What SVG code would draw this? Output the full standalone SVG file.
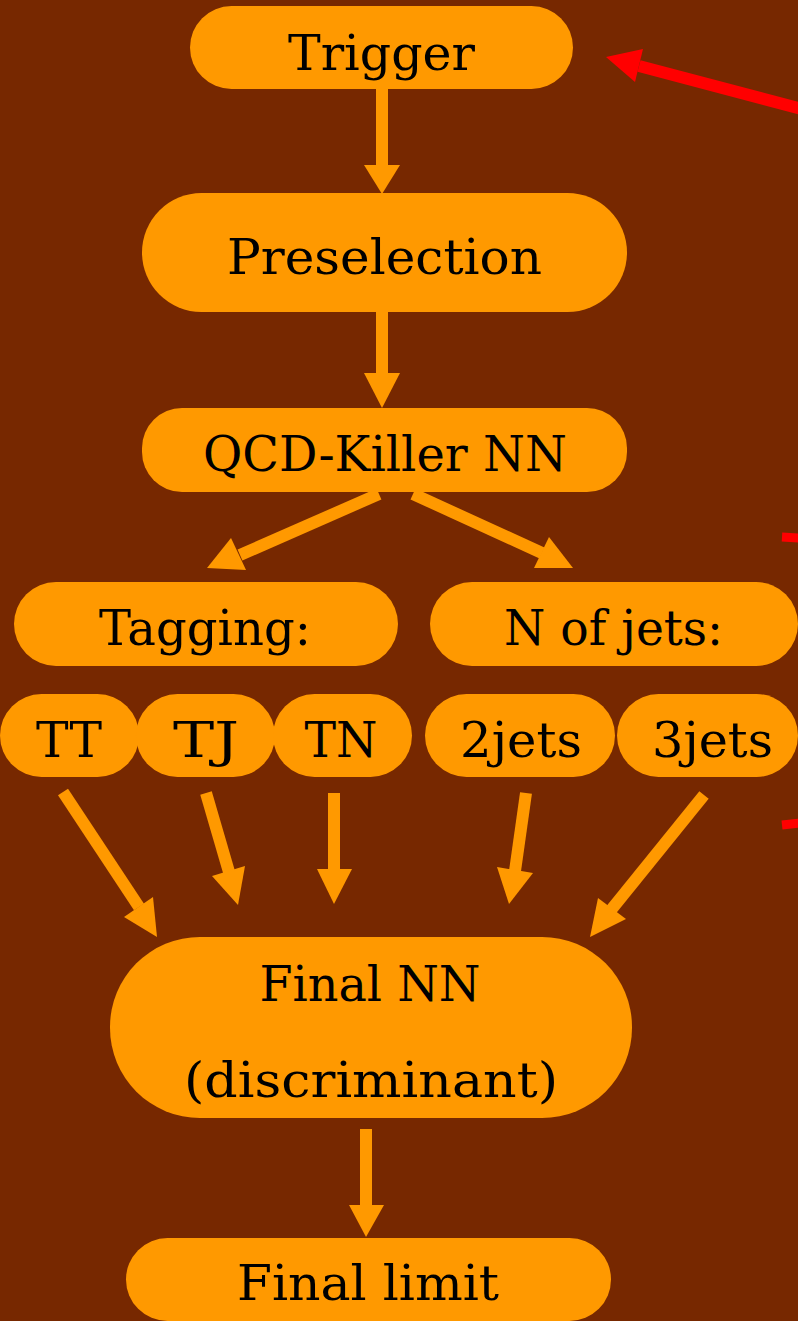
<svg xmlns="http://www.w3.org/2000/svg" width="798" height="1321" viewBox="0 0 798 1321">
<style>
.node{fill:#FF9900;}
.lbl{font-family:"DejaVu Serif","Liberation Serif",serif;font-size:48px;fill:#000;text-anchor:middle;}
.shaft{stroke:#FF9900;stroke-width:12;fill:none;}
.head{fill:#FF9900;}
.rshaft{stroke:#FF0000;stroke-width:12;fill:none;}
.rhead{fill:#FF0000;}
</style>
<rect x="0" y="0" width="798" height="1321" fill="#772800"/>
<g id="connectors">
<line class="shaft" x1="382" y1="89" x2="382" y2="166"/>
<polygon class="head" points="364,165 400,165 382,194"/>
<line class="shaft" x1="382" y1="312" x2="382" y2="374"/>
<polygon class="head" points="364,373 400,373 382,408"/>
<line class="shaft" x1="379" y1="494" x2="240" y2="555"/>
<polygon class="head" points="207,568 231,538 246,570"/>
<line class="shaft" x1="413" y1="494" x2="542" y2="553"/>
<polygon class="head" points="573,568 549,537 534,568"/>
<line class="shaft" x1="63" y1="792" x2="139" y2="907"/>
<polygon class="head" points="157,937 124,917 153,897"/>
<line class="shaft" x1="206" y1="793" x2="229" y2="872"/>
<polygon class="head" points="238,905 212,876 245,866"/>
<line class="shaft" x1="334" y1="793" x2="334" y2="870"/>
<polygon class="head" points="334,904 317,869 352,869"/>
<line class="shaft" x1="526" y1="793" x2="515" y2="871"/>
<polygon class="head" points="509,904 497,867 533,873"/>
<line class="shaft" x1="704" y1="795" x2="611" y2="910"/>
<polygon class="head" points="590,937 598,898 626,919"/>
<line class="shaft" x1="366" y1="1129" x2="366" y2="1206"/>
<polygon class="head" points="349,1205 384,1205 366,1237"/>
<line class="rshaft" x1="639" y1="66" x2="802" y2="109"/>
<polygon class="rhead" points="606,57 643,49 635,82"/>
<line class="rshaft" x1="782" y1="537" x2="800" y2="538" style="stroke-width:9"/>
<line class="rshaft" x1="782" y1="825" x2="800" y2="823" style="stroke-width:9"/>
</g>
<g id="trigger"><rect class="node" x="190" y="6" width="383" height="83" rx="41.5"/><text class="lbl" x="381.5" y="70" textLength="187" lengthAdjust="spacingAndGlyphs">Trigger</text></g>
<g id="preselection"><rect class="node" x="142" y="193" width="485" height="119" rx="59.5"/><text class="lbl" x="384.5" y="274" textLength="315" lengthAdjust="spacingAndGlyphs">Preselection</text></g>
<g id="qcd"><rect class="node" x="142" y="408" width="485" height="84" rx="40"/><text class="lbl" x="385" y="471" textLength="364" lengthAdjust="spacingAndGlyphs">QCD-Killer NN</text></g>
<g id="tagging"><rect class="node" x="14" y="582" width="384" height="84" rx="42"/><text class="lbl" x="205" y="645" textLength="212" lengthAdjust="spacingAndGlyphs">Tagging:</text></g>
<g id="njets"><rect class="node" x="430" y="582" width="368" height="84" rx="42"/><text class="lbl" x="613.5" y="645" textLength="219" lengthAdjust="spacingAndGlyphs">N of jets:</text></g>
<g id="tt"><rect class="node" x="0" y="694" width="139" height="83" rx="41.5"/><text class="lbl" x="69" y="757" textLength="66" lengthAdjust="spacingAndGlyphs">TT</text></g>
<g id="tj"><rect class="node" x="136" y="694" width="139" height="83" rx="41.5"/><text class="lbl" x="206" y="757" textLength="66" lengthAdjust="spacingAndGlyphs">TJ</text></g>
<g id="tn"><rect class="node" x="273" y="694" width="139" height="83" rx="41.5"/><text class="lbl" x="341" y="757" textLength="73" lengthAdjust="spacingAndGlyphs">TN</text></g>
<g id="twojets"><rect class="node" x="425" y="694" width="190" height="83" rx="41.5"/><text class="lbl" x="521" y="757" textLength="122" lengthAdjust="spacingAndGlyphs">2jets</text></g>
<g id="threejets"><rect class="node" x="617" y="694" width="181" height="83" rx="41.5"/><text class="lbl" x="712.5" y="757" textLength="121" lengthAdjust="spacingAndGlyphs">3jets</text></g>
<g id="finalnn"><rect class="node" x="110" y="937" width="522" height="181" rx="90"/><text class="lbl" x="370" y="1001" textLength="221" lengthAdjust="spacingAndGlyphs">Final NN</text><text class="lbl" x="371" y="1097" textLength="374" lengthAdjust="spacingAndGlyphs">(discriminant)</text></g>
<g id="finallimit"><rect class="node" x="126" y="1238" width="485" height="83" rx="41.5"/><text class="lbl" x="368" y="1300" textLength="262" lengthAdjust="spacingAndGlyphs">Final limit</text></g>
</svg>
